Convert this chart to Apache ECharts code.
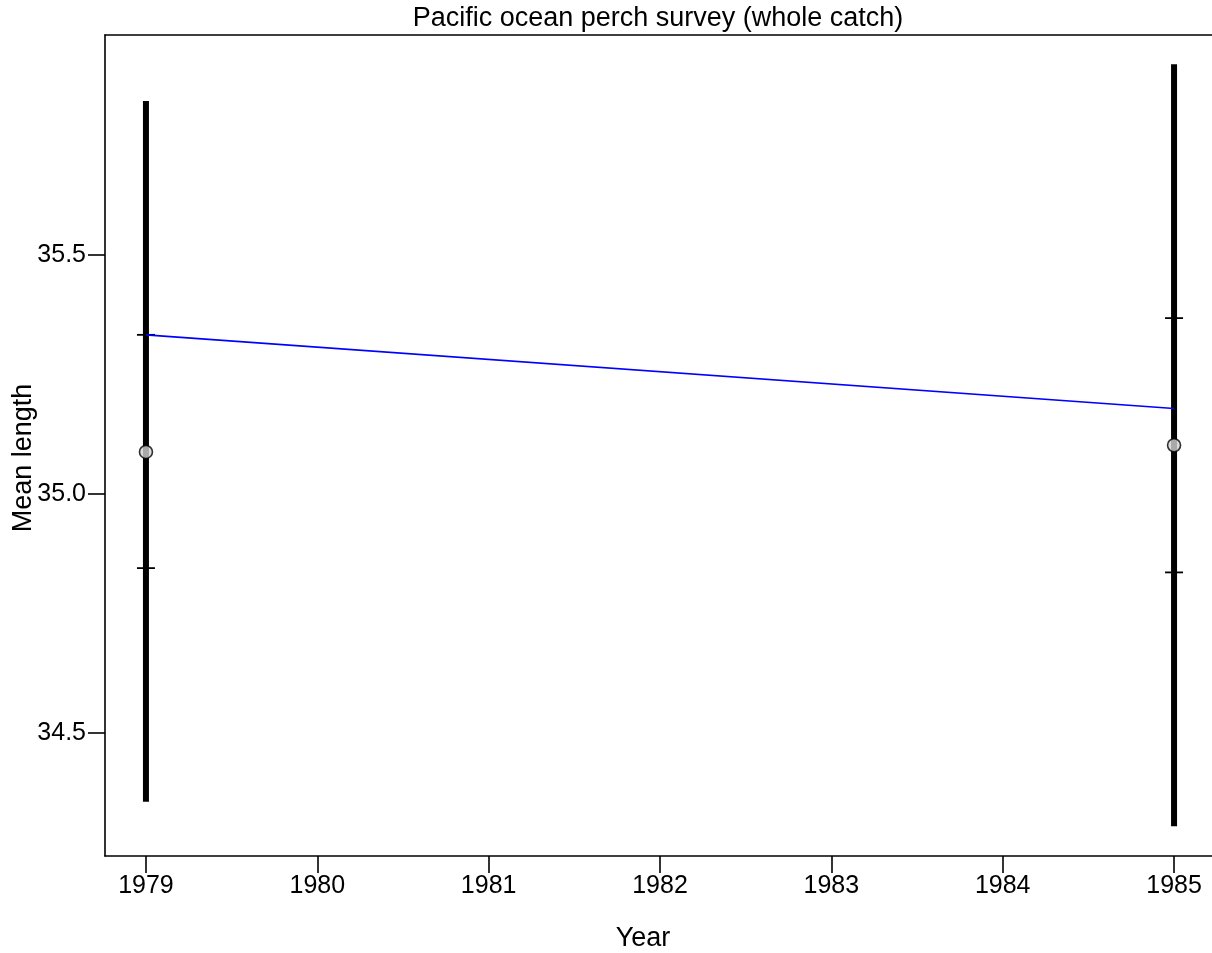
<!DOCTYPE html>
<html>
<head>
<meta charset="utf-8">
<script src="https://cdn.jsdelivr.net/npm/echarts@6/dist/echarts.min.js"></script>
<style>
html,body{margin:0;padding:0;background:#fff;}
#c{width:1212px;height:953px;}
</style>
</head>
<body>
<div id="c"></div>
<script>
// Data
const years = [1979, 1985];
const meanLength = [35.088, 35.102];
const barLow = [34.356, 34.305];
const barHigh = [35.822, 35.899];
const innerLow = [34.845, 34.836];
const innerHigh = [35.333, 35.368];
const fitted = [35.333, 35.179];
const xTicks = [1979, 1980, 1981, 1982, 1983, 1984, 1985];
const yTicks = [34.5, 35.0, 35.5];

const FONT = "'Liberation Sans', Arial, sans-serif";
const FS = 25;
const FT = 27;

const errData = years.map((y, i) => [y, barLow[i], barHigh[i], innerLow[i], innerHigh[i]]);
const ptData = years.map((y, i) => [y, meanLength[i]]);
const fitData = years.map((y, i) => [y, fitted[i]]);

const chart = echarts.init(document.getElementById('c'), null, {renderer: 'canvas'});
chart.setOption({
  animation: false,
  backgroundColor: '#ffffff',
  grid: {
    left: 105, top: 35, width: 1110, height: 821,
    outerBoundsMode: 'none',
    containLabel: false,
    show: false
  },
  xAxis: [{
    type: 'value',
    min: 1978.761, max: 1985.239,
    splitLine: {show: false},
    axisLine: {show: true, onZero: false, lineStyle: {color: '#000', width: 1.6}},
    axisTick: {show: true, length: 17, customValues: xTicks, lineStyle: {color: '#000', width: 1.6}},
    axisLabel: {
      customValues: xTicks, margin: 18, color: '#000', fontSize: FS, fontFamily: FONT,
      formatter: v => String(v)
    }
  }, {
    type: 'value', position: 'top',
    min: 1978.761, max: 1985.239,
    splitLine: {show: false},
    axisLine: {show: true, onZero: false, lineStyle: {color: '#000', width: 1.6}},
    axisTick: {show: false},
    axisLabel: {show: false}
  }],
  yAxis: {
    type: 'value',
    min: 34.2427, max: 35.9603,
    splitLine: {show: false},
    axisLine: {show: true, onZero: false, lineStyle: {color: '#000', width: 1.6}},
    axisTick: {show: true, length: 17, customValues: yTicks, lineStyle: {color: '#000', width: 1.6}},
    axisLabel: {
      customValues: yTicks, margin: 19, color: '#000', fontSize: FS, fontFamily: FONT,
      formatter: v => v.toFixed(1)
    }
  },
  graphic: [
    {type: 'text', x: 658, y: 19, style: {text: 'Pacific ocean perch survey (whole catch)', fill: '#000', font: FT + 'px ' + FONT, textAlign: 'center', textVerticalAlign: 'middle'}},
    {type: 'text', x: 643, y: 939, style: {text: 'Year', fill: '#000', font: FT + 'px ' + FONT, textAlign: 'center', textVerticalAlign: 'middle'}},
    {type: 'text', x: 24, y: 458, rotation: Math.PI / 2, style: {text: 'Mean length', fill: '#000', font: FT + 'px ' + FONT, textAlign: 'center', textVerticalAlign: 'middle'}}
  ],
  series: [
    {
      type: 'custom',
      z: 2,
      data: errData,
      renderItem: function (params, api) {
        const x = api.value(0);
        const pLo = api.coord([x, api.value(1)]);
        const pHi = api.coord([x, api.value(2)]);
        const pIL = api.coord([x, api.value(3)]);
        const pIH = api.coord([x, api.value(4)]);
        return {
          type: 'group',
          children: [
            {type: 'line', shape: {x1: pLo[0], y1: pLo[1], x2: pHi[0], y2: pHi[1]}, style: {stroke: '#000', lineWidth: 6}},
            {type: 'line', shape: {x1: pIL[0] - 9, y1: pIL[1], x2: pIL[0] + 9, y2: pIL[1]}, style: {stroke: '#000', lineWidth: 1.8}},
            {type: 'line', shape: {x1: pIH[0] - 9, y1: pIH[1], x2: pIH[0] + 9, y2: pIH[1]}, style: {stroke: '#000', lineWidth: 1.8}}
          ]
        };
      }
    },
    {
      type: 'line',
      z: 3,
      data: fitData,
      symbol: 'none',
      lineStyle: {color: '#0000ff', width: 1.6}
    },
    {
      type: 'scatter',
      z: 4,
      data: ptData,
      symbol: 'circle',
      symbolSize: 13,
      itemStyle: {color: '#d3d3d3', borderColor: '#000', borderWidth: 1.6}
    }
  ]
});
</script>
</body>
</html>
